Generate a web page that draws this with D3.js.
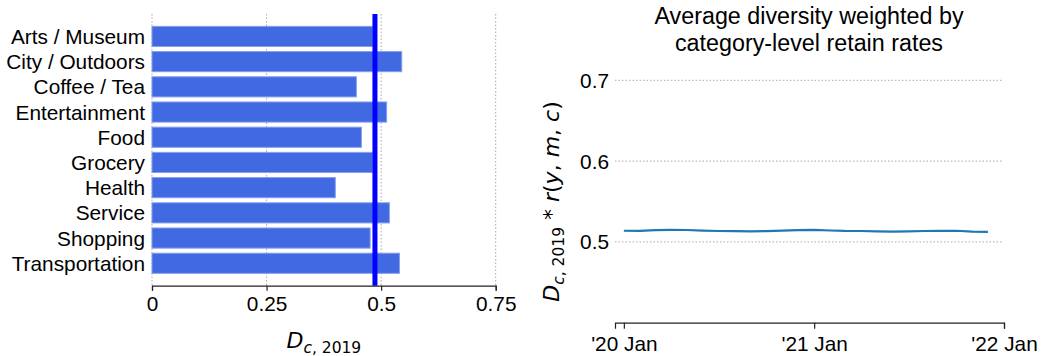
<!DOCTYPE html>
<html>
<head>
<meta charset="utf-8">
<script src="https://cdn.jsdelivr.net/npm/d3@7/dist/d3.min.js"></script>
<style>
  html, body { margin: 0; padding: 0; background: #fff; }
  svg { display: block; }
  text { font-family: "Liberation Sans", Arial, sans-serif; fill: #000; }
  .math { font-family: "DejaVu Sans", sans-serif; }
</style>
</head>
<body>
<svg id="chart" width="1060" height="356"></svg>
<script>
// Category-level diversity in 2019
const categories = ["Arts / Museum", "City / Outdoors", "Coffee / Tea", "Entertainment", "Food",
                    "Grocery", "Health", "Service", "Shopping", "Transportation"];
const diversity2019 = [0.482, 0.545, 0.446, 0.512, 0.457, 0.482, 0.400, 0.518, 0.476, 0.540];
const averageDiversity = 0.4865;
const barTicks = [0, 0.25, 0.5, 0.75];
const barTickLabels = ["0", "0.25", "0.5", "0.75"];

// Monthly weighted diversity, Jan 2020 – Dec 2021
const months = ["2020-01", "2020-02", "2020-03", "2020-04", "2020-05", "2020-06",
                "2020-07", "2020-08", "2020-09", "2020-10", "2020-11", "2020-12",
                "2021-01", "2021-02", "2021-03", "2021-04", "2021-05", "2021-06",
                "2021-07", "2021-08", "2021-09", "2021-10", "2021-11", "2021-12"];
const weightedDiversity = [0.5138, 0.5137, 0.5146, 0.5150, 0.5147, 0.5139,
                           0.5135, 0.5133, 0.5130, 0.5134, 0.5139, 0.5145,
                           0.5150, 0.5141, 0.5136, 0.5135, 0.5131, 0.5128,
                           0.5131, 0.5135, 0.5137, 0.5138, 0.5127, 0.5124];
const lineYTicks = [0.5, 0.6, 0.7];
const lineXTicks = ["2020-01", "2021-01", "2022-01"];
const lineXTickLabels = ["'20 Jan", "'21 Jan", "'22 Jan"];
const lineTitle = ["Average diversity weighted by", "category-level retain rates"];

const FS = "20.8px";
const svg = d3.select("#chart");
const parse = d3.timeParse("%Y-%m");

// ---------- Left panel: horizontal bars ----------
const L = { left: 152, right: 495.7, top: 14, bottom: 285.7 };
const xBar = d3.scaleLinear().domain([0, 0.75]).range([L.left, L.right]);
const yBar = d3.scaleBand().domain(categories).range([L.top, L.bottom])
  .paddingInner(0.2).paddingOuter(0.49);

const left = svg.append("g");

// vertical dotted grid
left.append("g").selectAll("line").data(barTicks).join("line")
  .attr("x1", d => xBar(d)).attr("x2", d => xBar(d))
  .attr("y1", L.top).attr("y2", L.bottom)
  .attr("stroke", "#aaa").attr("stroke-width", 1).attr("stroke-dasharray", "1.5,2");

left.append("g").selectAll("rect").data(categories).join("rect")
  .attr("x", xBar(0))
  .attr("y", d => yBar(d))
  .attr("width", (d, i) => xBar(diversity2019[i]) - xBar(0))
  .attr("height", yBar.bandwidth())
  .attr("fill", "#4169e1")
  .attr("stroke", "#86a0ee").attr("stroke-width", 1);

// category labels
left.append("g").selectAll("text").data(categories).join("text")
  .attr("x", 145).attr("y", d => yBar(d) + yBar.bandwidth() / 2)
  .attr("dy", "0.36em").attr("text-anchor", "end")
  .style("font-size", FS).text(d => d);

// average line
left.append("line")
  .attr("x1", xBar(averageDiversity)).attr("x2", xBar(averageDiversity))
  .attr("y1", L.top).attr("y2", L.bottom)
  .attr("stroke", "#0000ff").attr("stroke-width", 5);

// bottom axis
const xAxisL = d3.axisBottom(xBar).tickValues(barTicks)
  .tickFormat((d, i) => barTickLabels[i]).tickSizeOuter(0).tickSize(5).tickPadding(6);
const gxL = left.append("g").attr("transform", `translate(0,${L.bottom})`).call(xAxisL);
gxL.select(".domain").attr("stroke", "#222").attr("stroke-width", 1.2);
gxL.selectAll(".tick line").attr("stroke", "#222").attr("stroke-width", 1.2);
gxL.selectAll(".tick text").style("font-size", FS)
  .style("font-family", '"Liberation Sans", Arial, sans-serif').attr("fill", "#000");

// x label D_{c,2019}
const xl = left.append("text").attr("class", "math")
  .attr("x", (L.left + L.right) / 2).attr("y", 348).attr("text-anchor", "middle");
xl.append("tspan").style("font-size", "22px").style("font-style", "italic").text("D");
xl.append("tspan").attr("dy", 5).style("font-size", "15.5px").style("font-style", "italic").text("c");
xl.append("tspan").style("font-size", "15.5px").text(", 2019");

// ---------- Right panel: line ----------
const R = { left: 615, right: 1004, top: 80.3, bottom: 322.7 };
const xLine = d3.scaleTime()
  .domain([new Date(2019, 11, 15), new Date(2022, 0, 1)]).range([R.left, R.right]);
const yLine = d3.scaleLinear().domain([0.4, 0.7]).range([R.bottom, R.top]);

const right = svg.append("g");

right.append("g").selectAll("line").data(lineYTicks).join("line")
  .attr("x1", R.left).attr("x2", R.right - 1)
  .attr("y1", d => yLine(d)).attr("y2", d => yLine(d))
  .attr("stroke", "#aaa").attr("stroke-width", 1).attr("stroke-dasharray", "1.5,2");

right.append("g").selectAll("text").data(lineYTicks).join("text")
  .attr("x", 609).attr("y", d => yLine(d)).attr("dy", "0.36em")
  .attr("text-anchor", "end").style("font-size", FS).text(d => d.toFixed(1));

const line = d3.line()
  .x((d, i) => xLine(parse(months[i])))
  .y(d => yLine(d));
right.append("path").datum(weightedDiversity)
  .attr("d", line).attr("fill", "none")
  .attr("stroke", "#1f77b4").attr("stroke-width", 2.2).attr("stroke-linejoin", "round");

const xAxisR = d3.axisBottom(xLine).tickValues(lineXTicks.map(parse))
  .tickFormat((d, i) => lineXTickLabels[i]).tickSizeOuter(0).tickSize(6).tickPadding(8);
const gxR = right.append("g").attr("transform", `translate(0,${R.bottom})`).call(xAxisR);
gxR.select(".domain").attr("stroke", "#222").attr("stroke-width", 1.2);
gxR.selectAll(".tick line").attr("stroke", "#222").attr("stroke-width", 1.2);
gxR.selectAll(".tick text").style("font-size", FS)
  .style("font-family", '"Liberation Sans", Arial, sans-serif').attr("fill", "#000");

// title
right.append("g").selectAll("text").data(lineTitle).join("text")
  .attr("x", 809).attr("y", (d, i) => 24 + i * 26.5)
  .attr("text-anchor", "middle").style("font-size", "23.3px").text(d => d);

// y label D_{c,2019} * r(y, m, c)
const yl = right.append("text").attr("class", "math")
  .attr("transform", `translate(559,${(R.top + R.bottom) / 2}) rotate(-90)`)
  .attr("text-anchor", "middle");
yl.append("tspan").style("font-size", "22px").style("font-style", "italic").text("D");
yl.append("tspan").attr("dy", 5).style("font-size", "15.5px").style("font-style", "italic").text("c");
yl.append("tspan").style("font-size", "15.5px").text(", 2019");
yl.append("tspan").attr("dy", -5).style("font-size", "22px").text(" * ");
yl.append("tspan").style("font-size", "22px").style("font-style", "italic").text("r");
yl.append("tspan").style("font-size", "22px").text("(");
yl.append("tspan").style("font-size", "22px").style("font-style", "italic").text("y");
yl.append("tspan").style("font-size", "22px").text(", ");
yl.append("tspan").style("font-size", "22px").style("font-style", "italic").text("m");
yl.append("tspan").style("font-size", "22px").text(", ");
yl.append("tspan").style("font-size", "22px").style("font-style", "italic").text("c");
yl.append("tspan").style("font-size", "22px").text(")");
</script>
</body>
</html>
